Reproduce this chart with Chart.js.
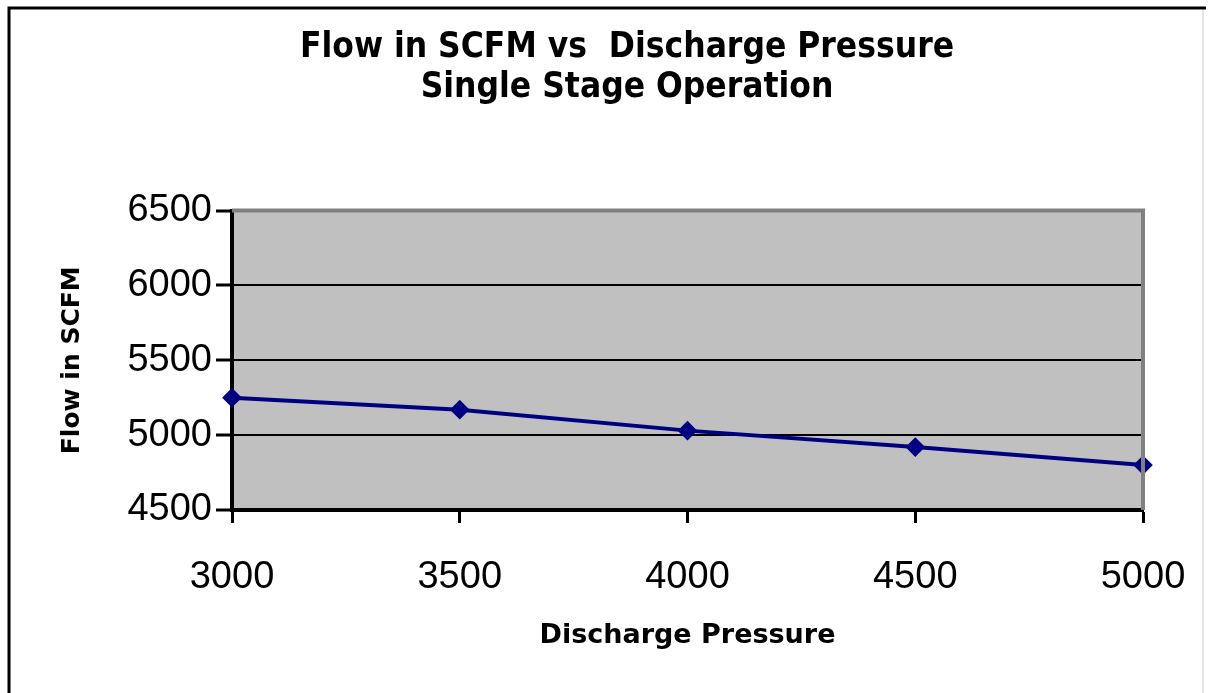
<!DOCTYPE html>
<html>
<head>
<meta charset="utf-8">
<script src="https://cdn.jsdelivr.net/npm/chart.js@4/dist/chart.umd.min.js"></script>
<style>
  body { margin: 0; background: #fff; }
  #wrap { width: 1212px; height: 693px; }
</style>
</head>
<body>
<div id="wrap"><canvas id="flowChart" width="1212" height="693"></canvas></div>
<script>
const pressures = [3000, 3500, 4000, 4500, 5000];
const flowScfm = [5250, 5170, 5030, 4920, 4800];
const titleLines = ['Flow in SCFM vs  Discharge Pressure', 'Single Stage Operation'];

// gray plot area plus the Excel-style frame
const plotFrame = {
    id: 'plotFrame',
    beforeDraw(chart) {
        const { ctx, chartArea: a } = chart;
        ctx.save();
        ctx.fillStyle = '#fff';
        ctx.fillRect(0, 0, chart.width, chart.height);
        ctx.fillStyle = '#c0c0c0';
        ctx.fillRect(a.left, a.top, a.right - a.left, a.bottom - a.top);
        ctx.restore();
    },
    afterDatasetsDraw(chart) {
        const { ctx, chartArea: a } = chart;
        ctx.save();
        ctx.strokeStyle = '#808080';
        ctx.lineWidth = 4;
        ctx.beginPath();
        ctx.moveTo(a.left, a.top);
        ctx.lineTo(a.right, a.top);
        ctx.lineTo(a.right, a.bottom);
        ctx.stroke();
        // outer chart border
        ctx.strokeStyle = '#000';
        ctx.lineWidth = 3;
        ctx.beginPath();
        ctx.moveTo(9, 693);
        ctx.lineTo(9, 8);
        ctx.lineTo(1206, 8);
        ctx.stroke();
        ctx.strokeStyle = '#e4e4e4';
        ctx.lineWidth = 2;
        ctx.beginPath();
        ctx.moveTo(1203, 10);
        ctx.lineTo(1203, 693);
        ctx.stroke();
        ctx.restore();
    }
};

const ctx = document.getElementById('flowChart').getContext('2d');
new Chart(ctx, {
    type: 'line',
    data: {
        datasets: [{
            data: pressures.map((p, i) => ({ x: p, y: flowScfm[i] })),
            borderColor: '#000080',
            backgroundColor: '#000080',
            borderWidth: 4,
            tension: 0,
            pointStyle: 'rectRot',
            pointRadius: 7,
            pointBackgroundColor: '#000080',
            pointBorderColor: '#000080',
            clip: false
        }]
    },
    options: {
        responsive: false,
        animation: false,
        // left padding shifts the title centre to match the original
        layout: { padding: { left: 111, right: 69, top: 0, bottom: 20 } },
        plugins: {
            legend: { display: false },
            tooltip: { enabled: false },
            title: {
                display: true,
                text: titleLines,
                color: '#000',
                font: { family: "'DejaVu Sans Condensed', 'Liberation Sans'", size: 35, weight: 'bold', lineHeight: 1.15 },
                padding: { top: 28, bottom: 102 }
            }
        },
        scales: {
            x: {
                type: 'linear',
                min: 3000,
                max: 5000,
                afterFit: s => { s.height = 163; s.paddingLeft = 0; s.paddingRight = 0; },
                ticks: {
                    stepSize: 500,
                    color: '#000',
                    padding: 32,
                    font: { family: 'Liberation Sans', size: 38 },
                    callback: v => String(v)
                },
                grid: {
                    drawOnChartArea: false,
                    tickLength: 13,
                    tickColor: '#000',
                    tickWidth: 3
                },
                border: { display: true, color: '#000', width: 4 },
                title: {
                    display: true,
                    text: 'Discharge Pressure',
                    color: '#000',
                    font: { family: 'DejaVu Sans', size: 27, weight: 'bold' },
                    padding: { top: 0, bottom: 21 }
                }
            },
            y: {
                min: 4500,
                max: 6500,
                afterFit: s => { s.width = 121; },
                ticks: {
                    stepSize: 500,
                    color: '#000',
                    padding: 4,
                    font: { family: 'Liberation Sans', size: 38 },
                    callback: v => String(v)
                },
                grid: {
                    color: '#000',
                    lineWidth: 2,
                    tickLength: 16,
                    tickColor: '#000',
                    tickWidth: 3
                },
                border: { display: true, color: '#000', width: 4 },
                title: {
                    display: true,
                    text: 'Flow in SCFM',
                    color: '#000',
                    font: { family: 'DejaVu Sans', size: 25, weight: 'bold' },
                    padding: { top: -54, bottom: 0 }
                }
            }
        }
    },
    plugins: [plotFrame]
});
</script>
</body>
</html>
